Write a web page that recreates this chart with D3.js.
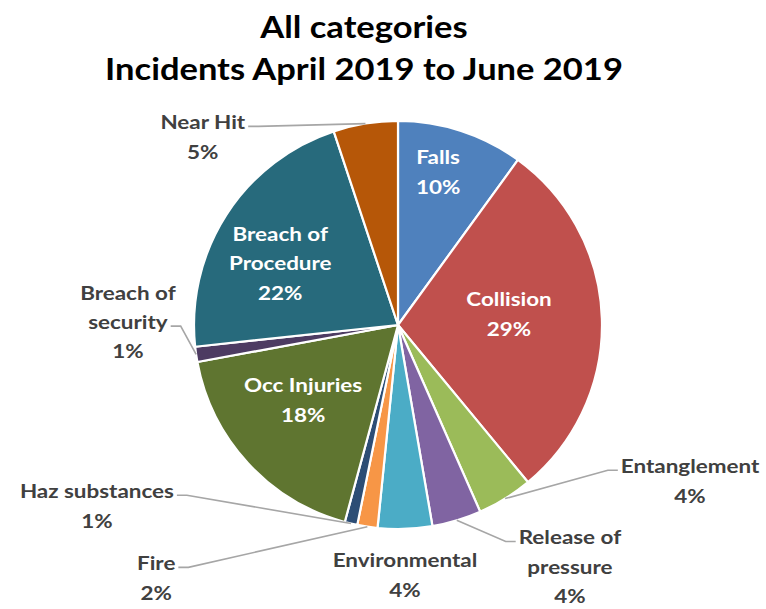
<!DOCTYPE html>
<html><head><meta charset="utf-8">
<script src="https://cdn.jsdelivr.net/npm/d3@7"></script>
<style>body{margin:0;background:#fff}</style>
</head><body><svg id="c" width="766" height="609"></svg>
<script>
const titleLines = ["All categories", "Incidents April 2019 to June 2019"];
const categories = ["Falls","Collision","Entanglement","Release of pressure","Environmental","Fire","Haz substances","Occ Injuries","Breach of security","Breach of Procedure","Near Hit"];
const shares = [10.0, 29.0, 4.4, 3.9, 4.3, 1.6, 1.0, 17.9, 1.2, 21.6, 5.1];
const percentLabels = ["10%","29%","4%","4%","4%","2%","1%","18%","1%","22%","5%"];
const nameLines = [["Falls"],["Collision"],["Entanglement"],["Release of","pressure"],["Environmental"],["Fire"],["Haz substances"],["Occ Injuries"],["Breach of","security"],["Breach of","Procedure"],["Near Hit"]];
const colors = ["#4F81BD","#C0504D","#9BBB59","#8064A2","#4BACC6","#F79646","#2C4D75","#5F7530","#4D3B62","#276A7C","#B65708"];

// label layout (style): inside or outside, polar placement relative to pie
const placement = {
  "Falls": {inside:true, r:0.775, a:14.7},
  "Collision": {inside:true, r:0.547, a:84.3},
  "Breach of Procedure": {inside:true, r:0.652, a:297.7},
  "Occ Injuries": {inside:true, r:0.593, a:231.7},
  "Near Hit": {r:1.328, a:313.9, lead:0, side:"left"},
  "Breach of security": {r:1.324, a:270.6, lead:1, side:"left"},
  "Haz substances": {r:1.722, a:239.0, lead:0, side:"left"},
  "Fire": {r:1.716, a:223.7, lead:0, side:"left"},
  "Environmental": {r:1.226, a:178.4},
  "Release of pressure": {r:1.455, a:144.6, lead:0, side:"right"},
  "Entanglement": {r:1.623, a:118.1, lead:0, side:"right"}
};

const W = 766, H = 609;
const cx = 398, cy = 325, R = 204;
const lineH = 29.5;
const stretch = 1.15;
const font = "Lato, 'Open Sans', sans-serif";
const svg = d3.select("#c");

function widen(sel){
  sel.each(function(){
    const w = this.getComputedTextLength();
    d3.select(this).attr("textLength", w*stretch).attr("lengthAdjust","spacingAndGlyphs");
  });
  return sel;
}

widen(svg.append("g").selectAll("text").data(titleLines).join("text")
  .attr("x", 364).attr("y", (d,i)=> 38 + i*42)
  .attr("text-anchor","middle")
  .attr("font-family",font)
  .attr("font-weight","bold").attr("font-size", 30).attr("fill","#000")
  .text(d=>d));

const data = categories.map((c,i)=>({name:c, value:shares[i], pct:percentLabels[i], lines:nameLines[i], color:colors[i]}));
const pie = d3.pie().sort(null).value(d=>d.value).startAngle(0).endAngle(2*Math.PI);
const arcs = pie(data);
const arc = d3.arc().innerRadius(0).outerRadius(R);

const g = svg.append("g").attr("transform", `translate(${cx},${cy})`);
g.selectAll("path").data(arcs).join("path")
  .attr("d", arc).attr("fill", d=>d.data.color)
  .attr("stroke","#fff").attr("stroke-width",2.2).attr("stroke-linejoin","round");

const polar = (a, r) => [Math.sin(a*Math.PI/180)*r, -Math.cos(a*Math.PI/180)*r];

arcs.forEach(d=>{
  const p = placement[d.data.name];
  const lines = d.data.lines.concat([d.data.pct]);
  const [lx, ly] = polar(p.a, p.r*R);
  const top = ly - (lines.length-1)*lineH/2;
  const tg = g.append("g");
  const texts = [];
  lines.forEach((t,i)=>{
    const tx = tg.append("text").attr("x", lx).attr("y", top + i*lineH).attr("dy","0.35em")
      .attr("text-anchor","middle").attr("font-family",font).attr("font-weight","bold")
      .attr("font-size",19.5).attr("fill", p.inside ? "#fff" : "#404040").text(t);
    widen(tx);
    texts.push(tx);
  });
  if (p.lead !== undefined) {
    const mid = (d.startAngle + d.endAngle)/2;
    const ax = Math.sin(mid)*R, ay = -Math.cos(mid)*R;
    const w = +texts[p.lead].attr("textLength");
    const yy = top + p.lead*lineH + 4;
    let sx, ex;
    if (p.side === "left") { sx = lx + w/2 + 3; ex = sx + 10; }
    else { sx = lx - w/2 - 3; ex = sx - 10; }
    g.insert("polyline", "g").attr("points", [[sx,yy],[ex,yy],[ax,ay]].map(q=>q.join(",")).join(" "))
      .attr("fill","none").attr("stroke","#a6a6a6").attr("stroke-width",1.6);
  }
});
</script></body></html>
